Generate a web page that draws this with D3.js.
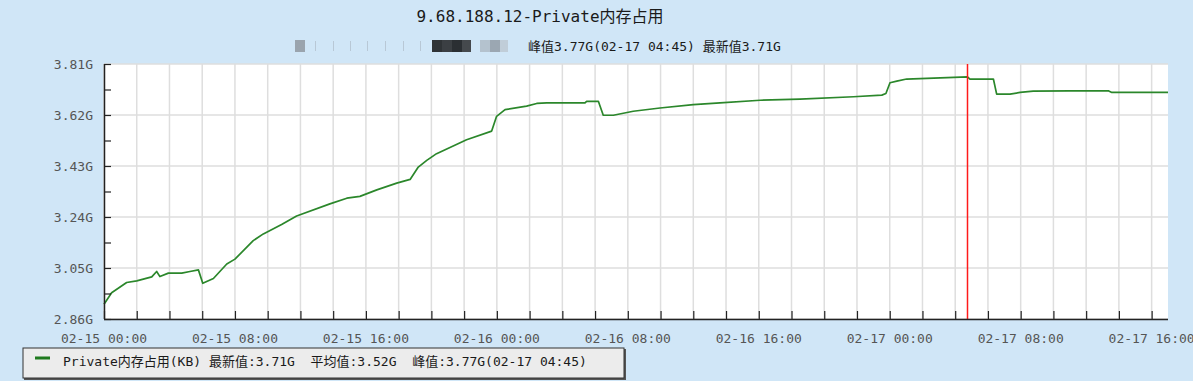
<!DOCTYPE html>
<html>
<head>
<meta charset="utf-8">
<script src="https://cdn.jsdelivr.net/npm/d3@7"></script>
<style>
  body { margin: 0; background: #d0e6f7; }
  svg { display: block; }
  text { font-family: "DejaVu Sans Mono", "Noto Sans CJK SC", monospace; white-space: pre; }
</style>
</head>
<body>
<svg id="chart"></svg>
<script>
// chart values
var times = [
  '02-15 00:00', '02-15 00:28', '02-15 01:23', '02-15 02:00', '02-15 02:55', '02-15 03:13',
  '02-15 03:25', '02-15 03:56', '02-15 04:45', '02-15 05:15', '02-15 05:46', '02-15 06:02',
  '02-15 06:41', '02-15 07:30', '02-15 08:00', '02-15 09:07', '02-15 09:44', '02-15 10:51',
  '02-15 11:46', '02-15 13:48', '02-15 14:50', '02-15 15:38', '02-15 16:40', '02-15 17:53',
  '02-15 18:42', '02-15 19:12', '02-15 19:43', '02-15 20:19', '02-15 22:09', '02-15 23:41',
  '02-15 23:59', '02-16 00:30', '02-16 01:49', '02-16 02:26', '02-16 03:03', '02-16 05:23',
  '02-16 05:29', '02-16 06:12', '02-16 06:30', '02-16 07:07', '02-16 08:20', '02-16 09:58',
  '02-16 12:00', '02-16 13:38', '02-16 16:05', '02-16 18:31', '02-16 21:47', '02-16 23:31',
  '02-16 23:46', '02-17 00:01', '02-17 00:26', '02-17 01:02', '02-17 04:45', '02-17 04:54',
  '02-17 06:20', '02-17 06:32', '02-17 07:21', '02-17 07:58', '02-17 08:46', '02-17 11:01',
  '02-17 13:21', '02-17 13:34', '02-17 17:00'
]
var values = [
  2.915, 2.958, 2.996, 3.002, 3.017, 3.037,
  3.018, 3.031, 3.031, 3.037, 3.043, 2.993,
  3.011, 3.065, 3.083, 3.152, 3.177, 3.212,
  3.244, 3.289, 3.310, 3.317, 3.341, 3.366,
  3.380, 3.426, 3.451, 3.476, 3.528, 3.560,
  3.615, 3.640, 3.653, 3.663, 3.665, 3.665,
  3.671, 3.671, 3.619, 3.619, 3.634, 3.646,
  3.659, 3.665, 3.675, 3.679, 3.688, 3.694,
  3.700, 3.740, 3.746, 3.754, 3.762, 3.754,
  3.754, 3.698, 3.698, 3.704, 3.709, 3.710,
  3.710, 3.704, 3.704
]
var xDomain = ['02-15 00:00', '02-17 17:00']
var xTickLabels = ['02-15 00:00', '02-15 08:00', '02-15 16:00', '02-16 00:00', '02-16 08:00',
  '02-16 16:00', '02-17 00:00', '02-17 08:00', '02-17 16:00']
var yTicks = [2.86, 3.05, 3.24, 3.43, 3.62, 3.81]
var yTickLabels = ['2.86G', '3.05G', '3.24G', '3.43G', '3.62G', '3.81G']
var peakTime = '02-17 04:45'
var title = '9.68.188.12-Private内存占用'
var subtitle = '峰值3.77G(02-17 04:45) 最新值3.71G'
var legendText = 'Private内存占用(KB) 最新值:3.71G  平均值:3.52G  峰值:3.77G(02-17 04:45)'

var parse = d3.timeParse('%m-%d %H:%M')

drawChart()

function drawChart() {
    var svgWidth = 1193, svgHeight = 381
    var margin = { top: 64, right: 25, bottom: 62, left: 104 }
    var width = svgWidth - margin.left - margin.right
    var height = svgHeight - margin.top - margin.bottom

    var svg = d3.select('#chart')
        .attr('width', svgWidth)
        .attr('height', svgHeight)

    svg.append('rect')
        .attr('width', svgWidth)
        .attr('height', svgHeight)
        .attr('fill', '#d0e6f7')

    // title + subtitle
    svg.append('text')
        .attr('x', 540).attr('y', 22)
        .attr('text-anchor', 'middle')
        .attr('font-size', 16)
        .attr('fill', '#1a1a1a')
        .text(title)

    // blurred-out part of the subtitle
    var mosaic = svg.append('g').attr('transform', 'translate(295,40)')
    var blocks = [[0, 10, '#9aa4ae'], [20, 1, '#b8c8d6'], [38, 1, '#b8c8d6'], [55, 1, '#b8c8d6'],
        [72, 1, '#b8c8d6'], [90, 1, '#b8c8d6'], [108, 1, '#b8c8d6'], [125, 1, '#b8c8d6'],
        [137, 10, '#2f3336'], [147, 10, '#3b3f43'], [157, 10, '#2b2f33'], [167, 9, '#45494d'],
        [185, 10, '#b4c2ce'], [195, 10, '#9ba7b2'], [205, 8, '#c0cdd8']]
    mosaic.selectAll('rect').data(blocks).enter().append('rect')
        .attr('x', function (d) { return d[0] })
        .attr('y', function (d) { return d[1] > 3 ? 0 : 1 })
        .attr('width', function (d) { return d[1] })
        .attr('height', function (d) { return d[1] > 3 ? 12 : 10 })
        .attr('fill', function (d) { return d[2] })

    svg.append('text')
        .attr('x', 528).attr('y', 51)
        .attr('font-size', 13)
        .attr('fill', '#1a1a1a')
        .text(subtitle)

    var g = svg.append('g')
        .attr('transform', 'translate(' + margin.left + ',' + margin.top + ')')

    var x = d3.scaleTime()
        .domain(xDomain.map(parse))
        .range([0, width])

    var y = d3.scaleLinear()
        .domain([yTicks[0], yTicks[yTicks.length - 1]])
        .range([height, 0])

    // plot background
    g.append('rect')
        .attr('width', width)
        .attr('height', height)
        .attr('fill', '#ffffff')

    // vertical grid every 2 hours
    var gridTimes = x.ticks(d3.timeHour.every(2))
    g.append('g').selectAll('line').data(gridTimes).enter().append('line')
        .attr('x1', function (d) { return x(d) }).attr('x2', function (d) { return x(d) })
        .attr('y1', 0).attr('y2', height)
        .attr('stroke', '#dedede').attr('stroke-width', 1.5)

    // horizontal grid
    g.append('g').selectAll('line').data(yTicks).enter().append('line')
        .attr('x1', 0).attr('x2', width)
        .attr('y1', function (d) { return y(d) }).attr('y2', function (d) { return y(d) })
        .attr('stroke', '#dedede').attr('stroke-width', 1.5)

    // data line
    var data = times.map(function (t, i) { return { date: parse(t), value: values[i] } })
    var line = d3.line()
        .x(function (d) { return x(d.date) })
        .y(function (d) { return y(d.value) })
    g.append('path')
        .datum(data)
        .attr('fill', 'none')
        .attr('stroke', '#2b872b')
        .attr('stroke-width', 1.7)
        .attr('stroke-linejoin', 'round')
        .attr('d', line)

    // peak marker
    var px = Math.round(x(parse(peakTime))) + 0.5
    g.append('line')
        .attr('x1', px).attr('x2', px)
        .attr('y1', 0).attr('y2', height)
        .attr('stroke', '#ff1a1a').attr('stroke-width', 1.5)

    // y axis, ticks pointing inward, minor ticks between
    var yMinor = d3.range(yTicks.length - 1).map(function (i) { return (yTicks[i] + yTicks[i + 1]) / 2 })
    var yAxis = g.append('g')
        .call(d3.axisRight(y).tickValues(yTicks.concat(yMinor)).tickSize(7).tickFormat(''))
    yAxis.select('.domain').attr('d', 'M0.5,0V' + height).attr('stroke', '#222').attr('stroke-width', 1.5)
    yAxis.selectAll('.tick line').attr('stroke', '#222').attr('stroke-width', 1.2)

    g.append('g').selectAll('text').data(yTicks).enter().append('text')
        .attr('x', -11).attr('y', function (d) { return y(d) })
        .attr('dy', '0.35em')
        .attr('text-anchor', 'end')
        .attr('font-size', 13)
        .attr('fill', '#555')
        .text(function (d, i) { return yTickLabels[i] })

    // x axis, ticks pointing inward at each grid line
    var xAxis = g.append('g')
        .attr('transform', 'translate(0,' + height + ')')
        .call(d3.axisTop(x).tickValues(gridTimes).tickSize(8).tickFormat(''))
    xAxis.select('.domain').attr('d', 'M0,0.5H' + width).attr('stroke', '#222').attr('stroke-width', 1.5)
    xAxis.selectAll('.tick line').attr('stroke', '#222').attr('stroke-width', 1.2)

    g.append('g').selectAll('text').data(xTickLabels).enter().append('text')
        .attr('x', function (d) { return x(parse(d)) })
        .attr('y', height + 24)
        .attr('text-anchor', 'middle')
        .attr('font-size', 13)
        .attr('fill', '#555')
        .text(function (d) { return d })

    // legend box
    var lg = svg.append('g').attr('transform', 'translate(23,348)')
    lg.append('rect')
        .attr('x', 1).attr('y', 1)
        .attr('width', 602).attr('height', 31)
        .attr('fill', '#555')
    lg.append('rect')
        .attr('width', 601).attr('height', 30)
        .attr('fill', '#ececec')
        .attr('stroke', '#333').attr('stroke-width', 1)
    lg.append('line')
        .attr('x1', 12).attr('x2', 27).attr('y1', 10).attr('y2', 10)
        .attr('stroke', '#1f7a1f').attr('stroke-width', 3)
    lg.append('text')
        .attr('x', 40).attr('y', 18)
        .attr('font-size', 13)
        .attr('fill', '#1a1a1a')
        .text(legendText)
}
</script>
</body>
</html>
